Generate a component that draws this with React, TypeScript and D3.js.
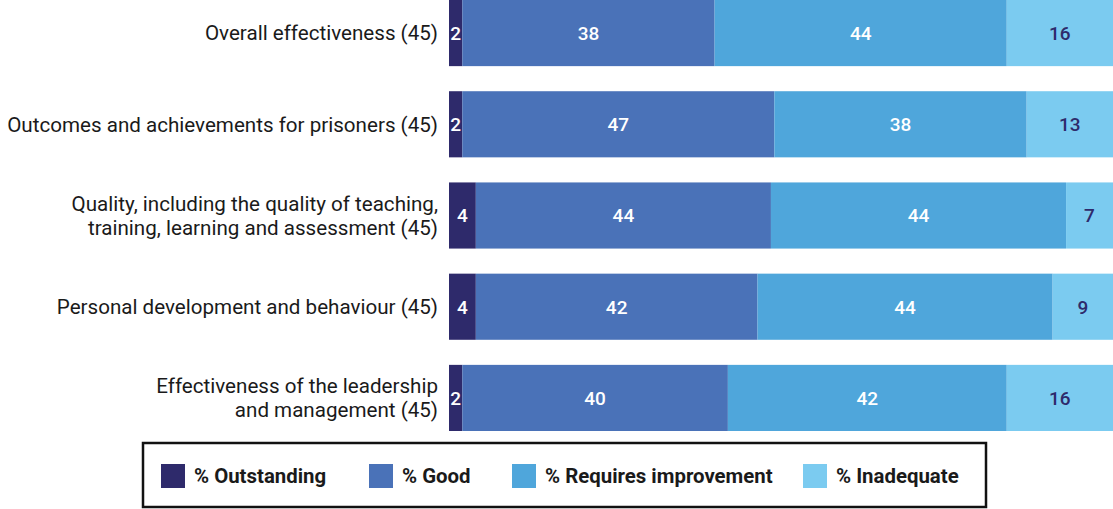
import React from "react";
import * as d3 from "d3";

const categories: string[][] = [
  ["Overall effectiveness (45)"],
  ["Outcomes and achievements for prisoners (45)"],
  ["Quality, including the quality of teaching,", "training, learning and assessment (45)"],
  ["Personal development and behaviour (45)"],
  ["Effectiveness of the leadership", "and management (45)"],
];
const seriesNames = ["% Outstanding", "% Good", "% Requires improvement", "% Inadequate"];
const outstanding = [2, 2, 4, 4, 2];
const good = [38, 47, 44, 42, 40];
const requiresImprovement = [44, 38, 44, 44, 42];
const inadequate = [16, 13, 7, 9, 16];

const colors = ["#2e2a6b", "#4a72b8", "#4fa6db", "#7bcbf0"];
const labelColors = ["#ffffff", "#ffffff", "#ffffff", "#2e2a6b"];

const W = 1113;
const H = 509;
const FONT = "Roboto, 'Noto Sans', sans-serif";

export default function App() {
  const series = [outstanding, good, requiresImprovement, inadequate];
  const y = d3
    .scaleBand<number>()
    .domain(d3.range(categories.length))
    .range([0, 431])
    .paddingInner(0.275)
    .paddingOuter(0);
  const x0 = 449;
  const x1 = 1113;

  const legendX = [161, 369, 512, 803];

  return (
    <svg width={W} height={H} style={{ position: "absolute", left: 0, top: 0, background: "#fff" }}>
      {categories.map((lines, i) => {
        const vals = series.map((s) => s[i]);
        const total = d3.sum(vals);
        const x = d3.scaleLinear().domain([0, total]).range([x0, x1]);
        let acc = 0;
        const yTop = y(i)!;
        const bh = y.bandwidth();
        const cy = yTop + bh / 2;
        return (
          <g key={i}>
            {vals.map((v, j) => {
              const start = acc;
              acc += v;
              const xs = x(start);
              const xe = x(acc);
              return (
                <g key={j}>
                  <rect x={xs} y={yTop} width={xe - xs} height={bh} fill={colors[j]} />
                  <text
                    x={(xs + xe) / 2}
                    y={cy}
                    dy="0.36em"
                    textAnchor="middle"
                    fill={labelColors[j]}
                    fontFamily={FONT}
                    fontWeight={500}
                    fontSize={19}
                  >
                    {v}
                  </text>
                </g>
              );
            })}
            {lines.map((ln, k) => (
              <text
                key={k}
                x={438}
                y={cy + (k - (lines.length - 1) / 2) * 24}
                dy="0.36em"
                textAnchor="end"
                fill="#1a1a1a"
                fontFamily={FONT}
                fontSize={20.6}
              >
                {ln}
              </text>
            ))}
          </g>
        );
      })}
      <rect x={143} y={443} width={843} height={64} fill="none" stroke="#111" strokeWidth={2.5} />
      {seriesNames.map((n, j) => (
        <g key={n}>
          <rect x={legendX[j]} y={464} width={24} height={24} fill={colors[j]} />
          <text
            x={legendX[j] + 33}
            y={476}
            dy="0.36em"
            fill="#1a1a1a"
            fontFamily={FONT}
            fontWeight={700}
            fontSize={20.4}
          >
            {n}
          </text>
        </g>
      ))}
    </svg>
  );
}
